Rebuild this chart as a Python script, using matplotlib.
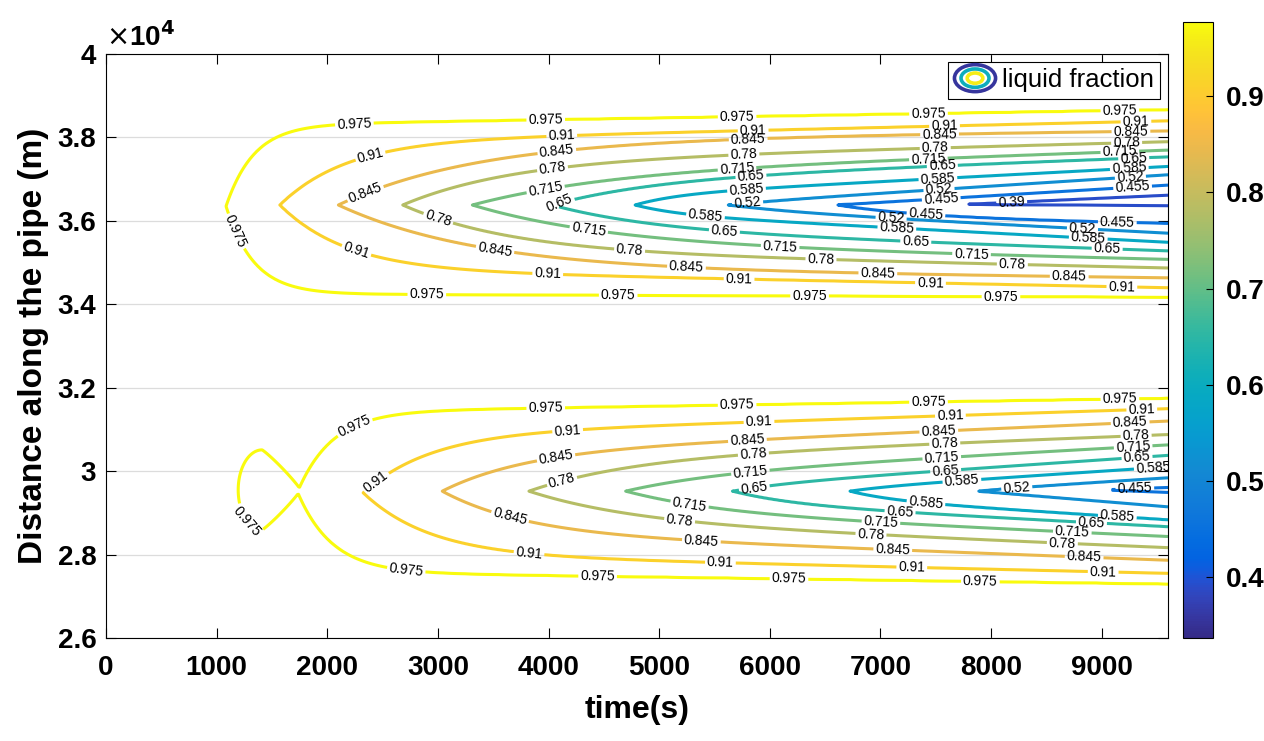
import numpy as np
import matplotlib
matplotlib.use("Agg")
import matplotlib.pyplot as plt
from matplotlib.colors import LinearSegmentedColormap, Normalize
from matplotlib.legend_handler import HandlerBase
from matplotlib.patches import Ellipse
import matplotlib.cm as mcm

plt.rcParams['font.family'] = ['Liberation Sans', 'DejaVu Sans']

# ---------------- data ----------------
levels = [0.975, 0.91, 0.845, 0.78, 0.715, 0.65, 0.585, 0.52, 0.455, 0.39]
t_end = 9600.0            # s
y_min, y_max = 2.6, 4.0   # distance, x 1e4 m

# upper lobe: per contour level, apex time/position and spreading of the two branches
up_apex_t = [1085, 1573, 2101, 2683, 3312, 4030, 4785, 5627, 6619, 7800]
up_apex_y = [3.635, 3.638, 3.638, 3.638, 3.638, 3.638, 3.638, 3.638, 3.638, 3.640]
up_tau    = [250, 600, 1270, 980, 1250, 950, 400, 600, 800, 800]
up_top_w  = [0.1945, 0.152, 0.1555, 0.104, 0.0773, 0.060, 0.025, 0.005, 0.0, 0.0]
up_top_m  = [4.3e-6, 6.2e-6, 3.0e-6, 6.9e-6, 8.7e-6, 1.0e-5, 1.4e-5, 1.7e-5, 1.6e-5, 1.2e-5]
up_bot_w  = [0.210, 0.155, 0.1525, 0.1095, 0.0926, 0.060, 0.022, 0.012, 0.030, 0.0]
up_bot_m  = [0.9e-6, 5.4e-6, 3.0e-6, 6.0e-6, 6.1e-6, 0.9e-5, 1.4e-5, 1.4e-5, 5.0e-6, 0.2e-5]

# lower lobe (no 0.39 contour)
lo_apex_t = [1731, 2326, 3040, 3824, 4698, 5663, 6726, 7890, 9000]
lo_apex_y = [2.950, 2.948, 2.952, 2.952, 2.952, 2.952, 2.952, 2.952, 2.955]
lo_tau    = [310, 600, 750, 950, 850, 550, 400, 400, 400]
lo_top_w  = [0.192, 0.140, 0.092, 0.078, 0.040, 0.015, 0.008, 0.003, 0.0]
lo_top_m  = [4.1e-6, 8.5e-6, 1.16e-5, 1.0e-5, 1.45e-5, 1.8e-5, 1.75e-5, 1.7e-5, 1.0e-5]
lo_bot_w  = [0.192, 0.148, 0.100, 0.072, 0.050, 0.030, 0.020, 0.0, 0.0]
lo_bot_m  = [3.6e-6, 6.2e-6, 1.0e-5, 1.1e-5, 1.2e-5, 1.4e-5, 1.7e-5, 2.2e-5, 1.0e-5]

# small closed 0.975 pocket left of the lower lobe (bow-tie)
pocket_t = [1195, 1411, 1760]      # left end, top/bottom peak time, right end
pocket_y = [2.955, 0.096]          # centre, half height

# label start times per branch (MATLAB-style labels every ~1730 s)
up_top_lab = [2245, 2390, 2345, 4036, 3974, 4100, 5790, 5800, 7550, 8187]
up_bot_lab = [1170, 2263, 3517, 3003, 4364, 5590, 5419, 7097, 7412, None]
lo_top_lab = [2245, 2443, 4068, 4122, 5825, 5860, 7737, 8233, 9300]
lo_bot_lab = [2714, 3824, 3652, 5185, 5275, 7178, 7412, None, None]
lab_step = 1730

# ---------------- parula colormap (index out of 63, rgb) ----------------
parula_pts = [
    (0, (0.2081, 0.1663, 0.5292)), (2, (0.2123, 0.2138, 0.6270)),
    (4, (0.1959, 0.2645, 0.7279)), (5, (0.1707, 0.2919, 0.7792)),
    (6, (0.1253, 0.3242, 0.8303)), (7, (0.0591, 0.3598, 0.8683)),
    (8, (0.0117, 0.3875, 0.8820)), (10, (0.0165, 0.4266, 0.8786)),
    (13, (0.0629, 0.4737, 0.8554)), (17, (0.0749, 0.5375, 0.8263)),
    (20, (0.0343, 0.5966, 0.8199)), (22, (0.0239, 0.6287, 0.8038)),
    (25, (0.0267, 0.6642, 0.7607)), (27, (0.0590, 0.6838, 0.7254)),
    (30, (0.1453, 0.7098, 0.6646)), (32, (0.2178, 0.7250, 0.6193)),
    (35, (0.3482, 0.7424, 0.5473)), (37, (0.4420, 0.7481, 0.5033)),
    (40, (0.5709, 0.7485, 0.4494)), (42, (0.6473, 0.7456, 0.4188)),
    (45, (0.7525, 0.7384, 0.3768)), (47, (0.8185, 0.7327, 0.3498)),
    (50, (0.9139, 0.7258, 0.3063)), (52, (0.9739, 0.7314, 0.2666)),
    (54, (0.9990, 0.7653, 0.2164)), (56, (0.9880, 0.8066, 0.1794)),
    (58, (0.9697, 0.8481, 0.1475)), (60, (0.9589, 0.8949, 0.1132)),
    (61, (0.9598, 0.9218, 0.0948)), (63, (0.9763, 0.9831, 0.0538))]
parula = LinearSegmentedColormap.from_list(
    "parula", [(i / 63.0, c) for i, c in parula_pts])
norm = Normalize(vmin=0.337, vmax=0.977)

# ---------------- field built from the per-level contour descriptions ----------------
tt = np.linspace(0, t_end, 961)
yy = np.linspace(y_min, y_max, 701)
T, Y = np.meshgrid(tt, yy)


def branch(t, a, w, tau, m):
    s = t - a
    return np.where(s >= 0, w * (1 - np.exp(-np.clip(s, 0, None) / tau)) + m * s,
                    s * (w / tau + m))


def lobe_field(at, ay, tau, tw, tm, bw, bm):
    n = len(at)
    G = np.empty((n,) + T.shape)
    for k in range(n):
        ft = branch(T, at[k], tw[k], tau[k], tm[k])
        fb = branch(T, at[k], bw[k], tau[k], bm[k])
        dy = Y - ay[k]
        G[k] = np.where(dy >= 0, ft - dy, fb + dy)
    G = np.minimum.accumulate(G, axis=0)          # keep contours nested
    L = np.array(levels[:n])
    idx = (G > 0).sum(axis=0)
    V = np.empty(T.shape)
    out = idx == 0
    V[out] = L[0] + (1.0 - L[0]) * np.clip(-G[0][out] / 0.05, 0, 1)
    inn = idx == n
    V[inn] = L[-1] - 0.065 * np.clip(G[-1][inn] / 0.03, 0, 1)
    mid = ~out & ~inn
    i1 = np.clip(idx, 1, n - 1)
    ga = np.take_along_axis(G, (i1 - 1)[None], 0)[0]
    gb = np.take_along_axis(G, i1[None], 0)[0]
    Va = L[i1 - 1]
    Vb = L[i1]
    frac = ga / np.where(ga - gb == 0, 1e-12, ga - gb)
    V[mid] = (Va + (Vb - Va) * frac)[mid]
    return V


V_up = lobe_field(up_apex_t, up_apex_y, up_tau, up_top_w, up_top_m, up_bot_w, up_bot_m)
V_lo = lobe_field(lo_apex_t, lo_apex_y, lo_tau, lo_top_w, lo_top_m, lo_bot_w, lo_bot_m)

u = np.where(T < pocket_t[1], (T - pocket_t[1]) / (pocket_t[1] - pocket_t[0]),
             (T - pocket_t[1]) / (pocket_t[2] - pocket_t[1]))
q = np.where(T < pocket_t[1], 2.0, 1.1)
v = (Y - pocket_y[0]) / pocket_y[1]
g_p = pocket_y[1] * (1 - np.abs(u) ** q - np.abs(v) ** q)
V_p = np.minimum(1.0, levels[0] - 0.3 * g_p)

V = np.minimum(np.minimum(V_up, V_lo), V_p)

# ---------------- figure ----------------
W_px, H_px = 1264, 741
fig = plt.figure(figsize=(W_px / 100, H_px / 100), dpi=100)
ax = fig.add_axes([106 / W_px, 1 - 638 / H_px, (1168 - 106) / W_px, (638 - 54) / H_px])
cax = fig.add_axes([1183 / W_px, 1 - 638 / H_px, 30 / W_px, (638 - 22) / H_px])

ax.yaxis.grid(True, color='#dcdcdc', lw=0.9)
ax.set_axisbelow(True)

lv_sorted = sorted(levels)
cs = ax.contour(T, Y, V, levels=lv_sorted, cmap=parula, norm=norm, linewidths=2.2)


# label positions computed from the same branch descriptions
def lab_positions(at, ay, tau, tw, tm, bw, bm, tl, bl):
    pts = []
    for k in range(len(at)):
        for start, w, m, sgn in ((tl[k], tw[k], tm[k], 1), (bl[k], bw[k], bm[k], -1)):
            if start is None:
                continue
            t0 = start
            while t0 < t_end - 120:
                f = float(branch(np.array(t0), at[k], w, tau[k], m))
                pts.append((t0, ay[k] + sgn * f))
                t0 += lab_step
    return pts


pos = lab_positions(up_apex_t, up_apex_y, up_tau, up_top_w, up_top_m, up_bot_w, up_bot_m,
                    up_top_lab, up_bot_lab)
pos += lab_positions(lo_apex_t, lo_apex_y, lo_tau, lo_top_w, lo_top_m, lo_bot_w, lo_bot_m,
                     lo_top_lab, lo_bot_lab)
pos.append((1300, 2.885))   # label on the small pocket
ax.clabel(cs, lv_sorted, manual=pos, inline=True, inline_spacing=2, fontsize=10,
          colors='k', fmt=lambda x: f"{x:g}")

ax.set_xlim(0, t_end)
ax.set_ylim(y_min, y_max)
ax.set_xticks(np.arange(0, 9001, 1000))
ax.set_yticks([2.6, 2.8, 3.0, 3.2, 3.4, 3.6, 3.8, 4.0])
ax.set_yticklabels(["2.6", "2.8", "3", "3.2", "3.4", "3.6", "3.8", "4"])
ax.tick_params(axis='both', direction='in', top=True, right=True, length=7, width=0.8,
               labelsize=20)
ax.tick_params(axis='x', pad=12)
ax.tick_params(axis='y', pad=7)
for lab in ax.get_xticklabels() + ax.get_yticklabels():
    lab.set_fontweight('bold')
for sp in ax.spines.values():
    sp.set_linewidth(0.8)

ax.set_xlabel("time(s)", fontsize=23, fontweight='bold', labelpad=10)
ax.set_ylabel("Distance along the pipe (m)", fontsize=24, fontweight='bold', labelpad=6)
ax.text(0.0, 1.004, r"$\times$10$^{\mathbf{4}}$", transform=ax.transAxes, fontsize=20,
        fontweight='bold', ha='left', va='bottom')

# colorbar
sm = mcm.ScalarMappable(norm=norm, cmap=parula)
cb = fig.colorbar(sm, cax=cax)
cb.set_ticks([0.4, 0.5, 0.6, 0.7, 0.8, 0.9])
cax.tick_params(direction='in', length=5, width=0.8, labelsize=20, pad=9)
for lab in cax.get_yticklabels():
    lab.set_fontweight('bold')
cb.outline.set_linewidth(0.8)


# legend with a contour-like icon
class ContourIcon:
    pass


class HandlerContour(HandlerBase):
    def create_artists(self, legend, orig, xd, yd, w, h, fontsize, trans):
        cx, cy = xd + w / 2, yd + h / 2
        arts = []
        for sc, c in ((1.0, parula(0.03)), (0.68, parula(0.42)), (0.38, parula(0.97))):
            arts.append(Ellipse((cx, cy), w * sc, h * 1.5 * sc, fill=False,
                                edgecolor=c, lw=2.6, transform=trans))
        return arts


leg = ax.legend([ContourIcon()], ["liquid fraction"],
                handler_map={ContourIcon: HandlerContour()}, loc='upper right',
                frameon=True, fancybox=False, edgecolor='k',
                framealpha=1, handlelength=1.6, handletextpad=0.25, borderpad=0.25,
                borderaxespad=0.3, prop={'size': 18.5})
leg.get_frame().set_linewidth(0.8)

fig.savefig("out.png", dpi=100)
